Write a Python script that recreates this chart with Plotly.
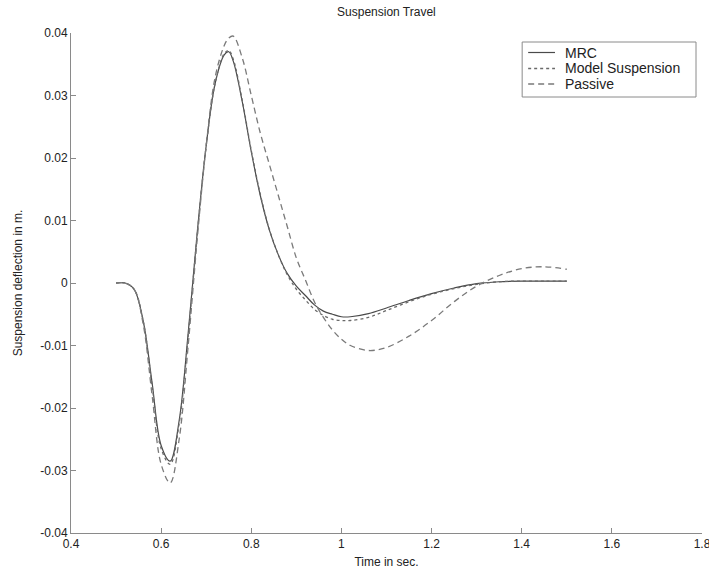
import plotly.graph_objects as go

# Time samples (s) shared by all three responses
time_s = [0.50, 0.52, 0.54, 0.56, 0.58, 0.60, 0.62, 0.64, 0.66, 0.68, 0.70,
          0.72, 0.74, 0.75, 0.76, 0.78, 0.80, 0.82, 0.84, 0.86, 0.88, 0.90,
          0.92, 0.94, 0.96, 0.98, 1.00, 1.02, 1.06, 1.10, 1.15, 1.20, 1.25,
          1.30, 1.35, 1.40, 1.45, 1.50]

# Suspension deflection (m)
mrc = [0.0, 0.0, -0.001, -0.006, -0.016, -0.026, -0.0285, -0.022, -0.008, 0.008,
       0.022, 0.032, 0.0365, 0.037, 0.0355, 0.029, 0.021, 0.014, 0.0085, 0.0045,
       0.0015, -0.0005, -0.002, -0.0035, -0.0045, -0.005, -0.0054, -0.0054,
       -0.0049, -0.004, -0.0028, -0.0017, -0.0008, -0.0001, 0.0002, 0.0003,
       0.0003, 0.0003]

model_susp = [0.0, 0.0, -0.001, -0.006, -0.0165, -0.0265, -0.029, -0.0225, -0.0085,
              0.0078, 0.022, 0.032, 0.0367, 0.0372, 0.0358, 0.0292, 0.0212, 0.0142,
              0.0086, 0.0045, 0.0013, -0.001, -0.0027, -0.0042, -0.0052, -0.0058,
              -0.006, -0.006, -0.0055, -0.0044, -0.003, -0.0018, -0.0009, -0.0002,
              0.0002, 0.0003, 0.0003, 0.0003]

passive = [0.0, 0.0, -0.001, -0.0065, -0.018, -0.029, -0.032, -0.025, -0.010, 0.007,
           0.022, 0.033, 0.038, 0.0392, 0.0395, 0.036, 0.030, 0.024, 0.019, 0.014,
           0.009, 0.004, 0.0005, -0.003, -0.0055, -0.0075, -0.009, -0.010, -0.0108,
           -0.0103, -0.0085, -0.006, -0.003, -0.0005, 0.0012, 0.0023, 0.0026, 0.0022]

series_names = ["MRC", "Model Suspension", "Passive"]

x_ticks = [0.4, 0.6, 0.8, 1.0, 1.2, 1.4, 1.6, 1.8]
x_tick_text = ["0.4", "0.6", "0.8", "1", "1.2", "1.4", "1.6", "1.8"]
y_ticks = [-0.04, -0.03, -0.02, -0.01, 0.0, 0.01, 0.02, 0.03, 0.04]
y_tick_text = ["-0.04", "-0.03", "-0.02", "-0.01", "0", "0.01", "0.02", "0.03", "0.04"]

font_family = "Liberation Sans, Arial, sans-serif"
text_color = "#222"
axis_color = "#8a8a8a"

styles = [
    dict(color="#4a4a4a", width=1.2, dash="solid"),
    dict(color="#6a6a6a", width=1.3, dash="3px,3px"),
    dict(color="#7a7a7a", width=1.3, dash="6px,4px"),
]

fig = go.Figure()
for name, values, style in zip(series_names, [mrc, model_susp, passive], styles):
    fig.add_trace(go.Scatter(x=time_s, y=values, name=name, mode="lines",
                             line=dict(shape="spline", **style), showlegend=False))

# Boxed legend in the upper right corner (paper coordinates)
box_x0, box_x1 = 0.715, 0.9905
box_y0, box_y1 = 0.872, 0.982
fig.add_shape(type="rect", xref="paper", yref="paper",
              x0=box_x0, x1=box_x1, y0=box_y0, y1=box_y1,
              line=dict(color=axis_color, width=1), fillcolor="white", layer="above")
entry_y = [0.961, 0.929, 0.898]
for name, style, ey in zip(series_names, styles, entry_y):
    fig.add_shape(type="line", xref="paper", yref="paper",
                  x0=0.7245, x1=0.767, y0=ey, y1=ey,
                  line=dict(color=style["color"], width=style["width"], dash=style["dash"]),
                  layer="above")
    fig.add_annotation(xref="paper", yref="paper", x=0.7795, y=ey,
                       xanchor="left", yanchor="middle", showarrow=False,
                       text=name, font=dict(family=font_family, size=14, color=text_color))

axis_common = dict(showgrid=False, zeroline=False, showline=True, linecolor=axis_color,
                   linewidth=1, ticks="inside", ticklen=5, tickcolor=axis_color,
                   tickfont=dict(family=font_family, size=12, color=text_color),
                   ticklabeloverflow="allow", automargin=False, mirror=False)

fig.update_layout(
    width=709, height=572,
    margin=dict(l=71, r=7, t=33, b=39),
    paper_bgcolor="white", plot_bgcolor="white",
    font=dict(family=font_family, size=12, color=text_color),
    title=dict(text="Suspension Travel", x=0.545, xanchor="center",
               y=1 - 12 / 572, yanchor="middle", yref="container",
               font=dict(family=font_family, size=12, color=text_color)),
    xaxis=dict(range=[0.4, 1.8], tickvals=x_ticks, ticktext=x_tick_text,
               title=dict(text="Time in sec.", standoff=7,
                          font=dict(family=font_family, size=12, color=text_color)),
               **axis_common),
    yaxis=dict(range=[-0.04, 0.04], tickvals=y_ticks, ticktext=y_tick_text,
               title=dict(text="Suspension deflection in m.", standoff=15,
                          font=dict(family=font_family, size=12, color=text_color)),
               **axis_common),
    showlegend=False,
)

fig.write_html("out.html")
